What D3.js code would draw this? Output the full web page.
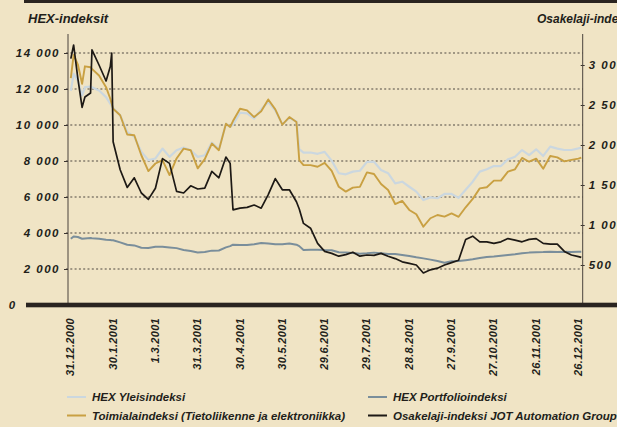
<!DOCTYPE html>
<html>
<head>
<meta charset="utf-8">
<script src="https://cdn.jsdelivr.net/npm/d3@7"></script>
<style>
  body { margin: 0; background: #f0e4c5; }
  svg { display: block; }
  text { font-family: "Liberation Sans", Arial, sans-serif; font-style: italic; fill: #221e1a; }
</style>
</head>
<body>
<div id="chart"></div>
<script>
// Data (index values per date)
var dates = ["2001-01-02","2001-01-04","2001-01-07","2001-01-10","2001-01-12","2001-01-16","2001-01-17","2001-01-22","2001-01-27","2001-01-30","2001-01-31",
  "2001-02-01","2001-02-06","2001-02-11","2001-02-16","2001-02-21","2001-02-26",
  "2001-03-03","2001-03-08","2001-03-13","2001-03-18","2001-03-23","2001-03-28",
  "2001-04-02","2001-04-07","2001-04-12","2001-04-17","2001-04-22","2001-04-25","2001-04-27",
  "2001-05-02","2001-05-07","2001-05-12","2001-05-17","2001-05-22","2001-05-27",
  "2001-06-01","2001-06-06","2001-06-11","2001-06-13","2001-06-16","2001-06-21","2001-06-26",
  "2001-07-01","2001-07-06","2001-07-11","2001-07-16","2001-07-21","2001-07-26","2001-07-31",
  "2001-08-05","2001-08-10","2001-08-15","2001-08-20","2001-08-25","2001-08-30",
  "2001-09-04","2001-09-09","2001-09-14","2001-09-19","2001-09-24","2001-09-29",
  "2001-10-04","2001-10-09","2001-10-14","2001-10-19","2001-10-24","2001-10-29",
  "2001-11-03","2001-11-08","2001-11-13","2001-11-18","2001-11-23","2001-11-28",
  "2001-12-03","2001-12-08","2001-12-13","2001-12-18","2001-12-23","2001-12-28","2001-12-30"];

// left axis
var yleis = [11900,12840,12470,11640,12100,12140,12100,11920,11550,11180,11050,10940,10540,9610,9340,8510,8050,8140,8690,8230,8600,8750,8600,8230,8320,9020,8660,10060,9890,10020,10680,10650,10350,10870,11270,10810,10040,10390,10200,8660,8470,8470,8400,8510,8020,7320,7260,7410,7460,7950,7960,7500,7320,6760,6850,6570,6300,5830,5980,5930,6170,6170,5950,6400,6850,7410,7540,7720,7720,8090,8240,8610,8330,8650,8280,8800,8690,8610,8610,8700,8740];
var toimiala = [12600,13890,13360,12290,13260,13210,13120,12750,12100,11460,11180,10900,10540,9470,9430,8320,7440,7860,8050,7220,8140,8690,8600,7590,8100,8970,8600,10070,9890,10220,10900,10810,10440,10760,11420,10870,10020,10440,10170,8050,7770,7770,7680,7900,7450,6570,6300,6520,6560,7370,7280,6720,6390,5610,5780,5280,5040,4350,4820,5000,4910,5090,4900,5430,5890,6480,6540,6910,6910,7410,7540,8170,7960,8130,7570,8280,8200,7980,8060,8130,8190];
var portfolio = [3680,3810,3780,3680,3700,3720,3710,3680,3620,3610,3600,3600,3480,3350,3310,3180,3170,3240,3240,3200,3160,3060,3000,2920,2940,3020,3030,3200,3270,3350,3330,3330,3370,3440,3420,3380,3380,3420,3350,3270,3050,3070,3070,3050,3040,2930,2910,2890,2850,2870,2910,2870,2830,2830,2780,2720,2650,2590,2520,2440,2350,2430,2440,2490,2540,2610,2670,2700,2740,2780,2820,2870,2910,2930,2940,2960,2940,2960,2940,2960,2960];
// right axis
var jot = [3080,3250,2830,2470,2600,2650,3190,3000,2800,2980,3150,2040,1690,1470,1590,1400,1320,1460,1830,1770,1420,1400,1490,1450,1460,1670,1590,1850,1770,1190,1210,1220,1250,1210,1380,1580,1440,1440,1290,1200,1020,960,770,670,645,610,630,660,610,625,620,645,610,580,540,520,500,400,440,460,500,530,560,820,860,790,790,770,790,830,810,790,820,830,770,760,760,670,625,605,595];

var xTickDates = ["2000-12-31","2001-01-30","2001-03-01","2001-03-31","2001-04-30","2001-05-30","2001-06-29","2001-07-29","2001-08-28","2001-09-27","2001-10-27","2001-11-26","2001-12-26"];
var leftTicks = [2000, 4000, 6000, 8000, 10000, 12000, 14000];
var rightTicks = [500, 1000, 1500, 2000, 2500, 3000];

var series = [
  { name: "HEX Yleisindeksi", values: yleis, color: "#cbd7df", width: 2.2, axis: "left" },
  { name: "Toimialaindeksi (Tietoliikenne ja elektroniikka)", values: toimiala, color: "#c9a042", width: 1.9, axis: "left" },
  { name: "HEX Portfolioindeksi", values: portfolio, color: "#7a8e9b", width: 2, axis: "left" },
  { name: "Osakelaji-indeksi JOT Automation Group", values: jot, color: "#1d1915", width: 1.7, axis: "right" }
];

var svgWidth = 617, svgHeight = 427;
var plotLeft = 68, plotRight = 582.7, plotTop = 35, plotBottom = 305;

var parseDate = d3.timeParse("%Y-%m-%d");
var fmtTick = d3.timeFormat("%-d.%-m.%Y");
var fi = d3.formatLocale({ decimal: ",", thousands: " ", grouping: [3], currency: ["", " €"] });
var fmtNum = fi.format(",d");

var svg = d3.select("#chart").append("svg")
  .attr("width", svgWidth)
  .attr("height", svgHeight);

var x = d3.scaleTime()
  .domain([parseDate("2000-12-31"), parseDate("2001-12-31")])
  .range([plotLeft, plotRight]);
var yLeft = d3.scaleLinear().domain([0, 15000]).range([plotBottom, plotTop]);
var yRight = d3.scaleLinear().domain([0, 3375]).range([plotBottom, plotTop]);

// top bar
svg.append("rect").attr("x", 24).attr("y", 0).attr("width", svgWidth - 24).attr("height", 3).attr("fill", "#2a2420");

// titles
svg.append("text").attr("x", 28).attr("y", 23)
  .style("font-weight", "bold").style("font-size", "13px")
  .text("HEX-indeksit");
svg.append("text").attr("x", 537).attr("y", 23)
  .style("font-weight", "bold").style("font-size", "12px")
  .text("Osakelaji-indeksi");

// dotted grid
svg.append("g").selectAll("line")
  .data(leftTicks)
  .enter().append("line")
  .attr("x1", plotLeft - 2).attr("x2", plotRight)
  .attr("y1", d => yLeft(d)).attr("y2", d => yLeft(d))
  .attr("stroke", "#4f4842")
  .attr("stroke-width", 1.2)
  .attr("stroke-dasharray", "2,2.3");

// left axis
var leftAxis = d3.axisLeft(yLeft).tickValues(leftTicks).tickSize(4).tickPadding(4).tickFormat(fmtNum);
var gl = svg.append("g").attr("transform", `translate(${plotLeft},0)`).call(leftAxis);
gl.select(".domain").remove();
gl.selectAll(".tick line").attr("stroke", "#3a342f");
gl.selectAll(".tick text")
  .style("font-family", "Liberation Sans, Arial, sans-serif")
  .style("font-style", "italic").style("font-weight", "bold")
  .style("font-size", "11.5px").style("letter-spacing", "1.5px")
  .attr("fill", "#1c1814");

// right axis
var rightAxis = d3.axisRight(yRight).tickValues(rightTicks).tickSize(2).tickPadding(4).tickFormat(fmtNum);
var gr = svg.append("g").attr("transform", `translate(${plotRight},0)`).call(rightAxis);
gr.select(".domain").remove();
gr.selectAll(".tick line").attr("x1", -2).attr("stroke", "#3a342f");
gr.selectAll(".tick text")
  .style("font-family", "Liberation Sans, Arial, sans-serif")
  .style("font-style", "italic").style("font-weight", "bold")
  .style("font-size", "11.5px").style("letter-spacing", "1.5px")
  .attr("fill", "#1c1814");

// vertical axis lines
[plotLeft, plotRight].forEach(function(px) {
  svg.append("line").attr("x1", px).attr("x2", px).attr("y1", 34).attr("y2", plotBottom)
    .attr("stroke", "#4a433d").attr("stroke-width", 1);
});

// lines
var parsedDates = dates.map(parseDate);
series.forEach(function(s) {
  var yScale = s.axis === "left" ? yLeft : yRight;
  var line = d3.line()
    .x((d, i) => x(parsedDates[i]))
    .y(d => yScale(d));
  svg.append("path")
    .datum(s.values)
    .attr("fill", "none")
    .attr("stroke", s.color)
    .attr("stroke-width", s.width)
    .attr("stroke-linejoin", "round")
    .attr("d", line);
});

// baseline and zero label
svg.append("rect").attr("x", 26).attr("y", plotBottom - 2.3).attr("width", svgWidth - 26).attr("height", 4.6).attr("fill", "#2a2420");
svg.append("text").attr("x", 12).attr("y", plotBottom).attr("dy", "0.35em")
  .attr("text-anchor", "middle")
  .style("font-weight", "bold").style("font-size", "11.5px")
  .text("0");

// x axis date labels
var xAxis = d3.axisBottom(x).tickValues(xTickDates.map(parseDate)).tickSize(0).tickFormat(fmtTick);
var gx = svg.append("g").attr("transform", `translate(0,${plotBottom})`).call(xAxis);
gx.select(".domain").remove();
gx.selectAll(".tick text")
  .attr("transform", "rotate(-90)")
  .attr("x", -13).attr("y", 2).attr("dy", "0.35em")
  .attr("text-anchor", "end")
  .style("font-family", "Liberation Sans, Arial, sans-serif")
  .style("font-style", "italic").style("font-weight", "bold")
  .style("font-size", "11px").style("letter-spacing", "0.3px")
  .attr("fill", "#1c1814");

// legend
var legendPos = [[67, 397], [368, 397], [67, 415.5], [368, 415.5]];
var legendOrder = [0, 2, 1, 3];
var legend = svg.append("g").selectAll("g")
  .data(legendOrder)
  .enter().append("g")
  .attr("transform", (d, i) => `translate(${legendPos[i][0]},${legendPos[i][1]})`);
legend.append("line")
  .attr("x1", 0).attr("x2", 19)
  .attr("stroke", d => series[d].color)
  .attr("stroke-width", 2);
legend.append("text")
  .attr("x", 25).attr("dy", "0.35em")
  .style("font-weight", "bold").style("font-size", "11.5px")
  .text(d => series[d].name);
</script>
</body>
</html>
